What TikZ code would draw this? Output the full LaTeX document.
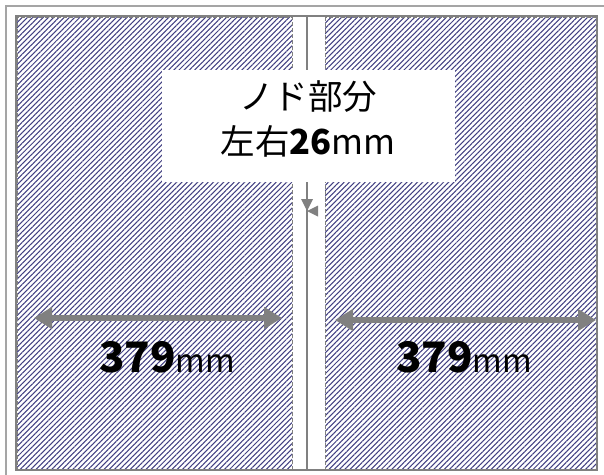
\documentclass[tikz,border=0pt]{standalone}
\usepackage{fontspec}
\setmainfont{Noto Sans CJK JP}
\usetikzlibrary{patterns.meta,arrows.meta}
\definecolor{hatch}{RGB}{66,64,130}
\definecolor{framegray}{RGB}{128,128,128}
\definecolor{lightframe}{RGB}{165,165,165}
\definecolor{arrowgray}{RGB}{128,128,128}
\tikzset{
  panel/.style={pattern={Lines[angle=45,distance=3.7pt,line width=1.05pt]}, pattern color=hatch, draw=framegray, dashed, dash pattern=on 4pt off 2pt, line width=0.8pt},
  dimarrow/.style={draw=arrowgray, line width=6.5pt, {Triangle[length=18pt,width=21pt]}-{Triangle[length=18pt,width=21pt]}},
  bigtext/.style={font=\fontsize{34.5}{45}\selectfont, align=center, inner sep=0pt},
  sizetext/.style={anchor=base, inner sep=0pt},
  smallhead/.style={fill=framegray, draw=none}
}
\begin{document}
\begin{tikzpicture}[x=1pt,y=-1pt]
\useasboundingbox (0,0) rectangle (604,474);
% outer frame
\draw[lightframe, line width=2pt] (6,480) -- (6,6) -- (610,6);
% panels
\path[panel] (17,17) rectangle (292,469);
\path[panel] (325,17) rectangle (597,469);
% centre line
\coordinate (ctop) at (307,17);
\coordinate (cbot) at (307,469);
\draw[framegray, line width=1.5pt] (ctop) -- (cbot);
% inner frame
\draw[framegray, line width=2.5pt] (16,16) rectangle (597,470);
% white label box
\node[fill=white, minimum width=293pt, minimum height=112pt, inner sep=0pt] (box) at (308.5,126) {};
\node[bigtext] (label) at (308,119) {ノド部分\\左右\textbf{26}mm};
% small arrowheads of the gutter dimension
\coordinate (tip) at (307,211);
\fill[smallhead] (tip) -- (301,199) -- (313,199) -- cycle;
\fill[smallhead] (tip) -- (318,205.5) -- (318,216.5) -- cycle;
% dimension arrows
\coordinate (l1) at (34,318);
\coordinate (l2) at (282,318);
\coordinate (r1) at (335,320);
\coordinate (r2) at (596,320);
\draw[dimarrow] (l1) -- (l2);
\draw[dimarrow] (r1) -- (r2);
% size labels
\node[sizetext] (lsize) at (167,372) {\fontsize{42}{42}\selectfont\textbf{379}\fontsize{32}{32}\selectfont mm};
\node[sizetext] (rsize) at (464,372) {\fontsize{42}{42}\selectfont\textbf{379}\fontsize{32}{32}\selectfont mm};
\end{tikzpicture}
\end{document}
